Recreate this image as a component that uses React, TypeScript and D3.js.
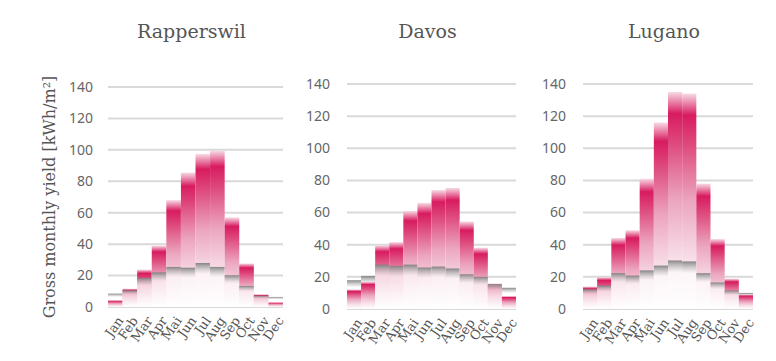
import React from "react";
import * as d3 from "d3";

const months = ["Jan", "Feb", "Mar", "Apr", "Mai", "Jun", "Jul", "Aug", "Sep", "Oct", "Nov", "Dec"];
const cities = ["Rapperswil", "Davos", "Lugano"];
const yTicks = [0, 20, 40, 60, 80, 100, 120, 140];

// pink = gross yield, grey = second series
const rapperswilPink = [4.3, 11.7, 23.8, 39, 68, 85.5, 97.4, 99.4, 57, 27.7, 8.1, 3];
const rapperswilGrey = [8.5, 10.6, 18.5, 22, 25.5, 25, 28, 25.5, 20.2, 13.4, 7.2, 6.4];
const davosPink = [12.2, 16.9, 39.6, 41.6, 61, 66, 74, 75.3, 54.4, 38.1, 15.9, 8];
const davosGrey = [17.9, 20.6, 27.6, 26.8, 27.6, 25.8, 26.4, 25.2, 21.6, 20, 15.5, 13.2];
const luganoPink = [14, 19.8, 44.2, 49, 81, 116, 135, 134, 78, 43.5, 18.8, 9];
const luganoGrey = [12.3, 14.6, 22.3, 20.8, 24, 27, 30.2, 29.6, 22.3, 16.5, 11.5, 10];

const pinkSeries = [rapperswilPink, davosPink, luganoPink];
const greySeries = [rapperswilGrey, davosGrey, luganoGrey];

// plot boxes [left, right, bottom, top] per panel
const panels = [
  [108, 283, 307, 87],
  [347, 516, 309, 84],
  [583, 753, 309, 84],
];

const W = 776;
const H = 361;
const slab = "'DejaVu Serif', serif";
const sans = "'Noto Sans', sans-serif";

export default function App() {
  return (
    <svg width={W} height={H} style={{ position: "absolute", left: 0, top: 0 }}>
      <defs>
        <linearGradient id="pinkGrad" x1="0" y1="0" x2="0" y2="1">
          <stop offset="0" stopColor="#f7d9e4" />
          <stop offset="0.1" stopColor="#d81b60" />
          <stop offset="0.22" stopColor="#dd4479" />
          <stop offset="0.5" stopColor="#eca6bf" />
          <stop offset="0.78" stopColor="#f8e1ea" />
          <stop offset="1" stopColor="#ffffff" />
        </linearGradient>
        <linearGradient id="greyGrad" x1="0" y1="0" x2="0" y2="1">
          <stop offset="0" stopColor="#7e7e7e" stopOpacity="0.95" />
          <stop offset="0.05" stopColor="#9a9a9a" stopOpacity="0.85" />
          <stop offset="0.25" stopColor="#ffffff" stopOpacity="0.6" />
          <stop offset="1" stopColor="#ffffff" stopOpacity="0.5" />
        </linearGradient>
      </defs>
      <text
        transform={`translate(55,${(87 + 307) / 2}) rotate(-90)`}
        textAnchor="middle"
        fontFamily={slab}
        fontSize={16}
        fontWeight={300}
        fill="#555"
      >
        Gross monthly yield [kWh/m²]
      </text>
      {panels.map((p, pi) => {
        const [left, right, bottom, top] = p;
        const x = d3.scaleBand<string>().domain(months).range([left, right]).padding(0);
        const y = d3.scaleLinear().domain([0, 140]).range([bottom, top]);
        const pink = pinkSeries[pi];
        const grey = greySeries[pi];
        return (
          <g key={cities[pi]}>
            <text
              x={(left + right) / 2 - 4}
              y={38}
              textAnchor="middle"
              fontFamily={slab}
              fontSize={19}
              fontWeight={300}
              fill="#555"
            >
              {cities[pi]}
            </text>
            {yTicks.map((t) => (
              <g key={t}>
                <line x1={left} x2={right} y1={y(t)} y2={y(t)} stroke="#d9d9d9" strokeWidth={2} />
                <text
                  x={left - (pi === 0 ? 15 : 17)}
                  y={y(t)}
                  dy="0.35em"
                  textAnchor="end"
                  fontFamily={sans}
                  fontSize={14}
                  fill="#666"
                >
                  {t}
                </text>
              </g>
            ))}
            {months.map((m, i) => {
              const bw = x.bandwidth();
              const x0 = x(m)!;
              const items = [
                { v: pink[i], fill: "url(#pinkGrad)" },
                { v: grey[i], fill: "url(#greyGrad)" },
              ].sort((a, b) => b.v - a.v);
              return (
                <g key={m}>
                  {items.map((it, k) => (
                    <rect
                      key={k}
                      x={x0}
                      y={y(it.v)}
                      width={bw}
                      height={y(0) - y(it.v)}
                      fill={it.fill}
                    />
                  ))}
                  <text
                    transform={`translate(${x0 + bw / 2 + 5},${bottom + 11}) rotate(-55)`}
                    textAnchor="end"
                    dy="0.35em"
                    fontFamily={slab}
                    fontSize={13}
                    fill="#555"
                  >
                    {m}
                  </text>
                </g>
              );
            })}
          </g>
        );
      })}
    </svg>
  );
}
